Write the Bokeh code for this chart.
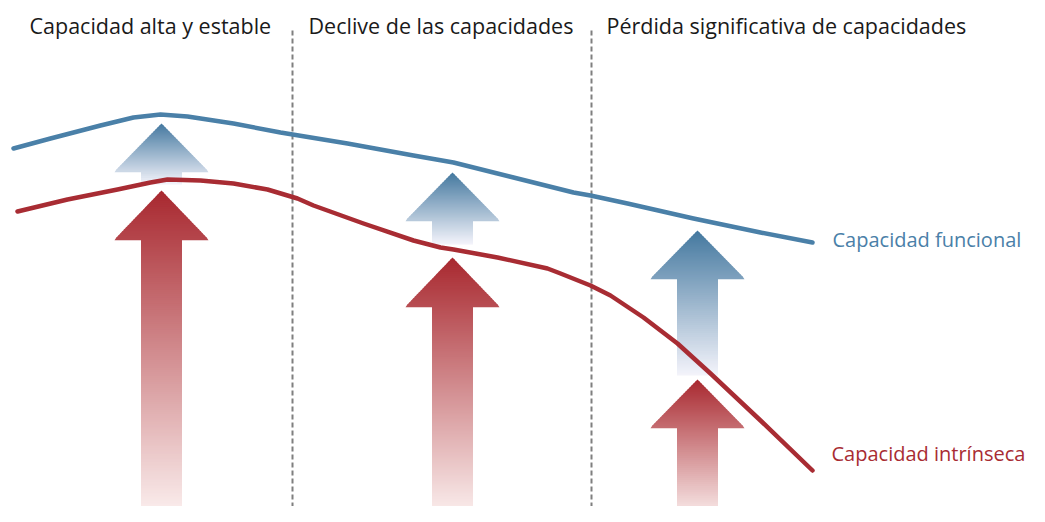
import numpy as np
from bokeh.plotting import figure
from bokeh.models import Range1d, ColumnDataSource
from bokeh.embed import file_html
from bokeh.resources import INLINE
from bokeh.core.properties import value

# ---------------- data (abstract units: x = life course, y = capacity level) ----------------
func_x = [13, 50, 100, 133, 160, 187, 233, 280, 347, 413, 453, 513, 573, 590, 627, 693, 760, 812]
func_y = [374, 384, 397, 405, 408, 406, 399, 390, 379, 367, 360, 345, 330, 327, 319, 304, 290, 280]

intr_x = [17, 67, 117, 150, 167, 200, 233, 267, 297, 313, 363, 413, 440, 453, 497, 547, 560,
          590, 610, 643, 677, 710, 760, 812]
intr_y = [311, 323, 333, 340, 343, 342, 339, 333, 324, 317, 299, 282, 275, 273, 265, 254, 249,
          237, 227, 205, 179, 149, 102, 52]

phase_bounds = [292, 591]
phase_labels = ["Capacidad alta y estable", "Declive de las capacidades",
                "Pérdida significativa de capacidades"]
phase_label_x = [29, 308, 606]

series_labels = ["Capacidad funcional", "Capacidad intrínseca"]
series_label_x = [832, 831]
series_label_y = [283, 69]

arrow_x = [161, 452, 697]
blue_tip = [399, 350, 292]
blue_head_base = [351, 302, 244]
blue_tail = [338, 278, 147]
red_tip = [332, 265, 143]
red_head_base = [283, 216, 95]
red_tail = [0, 0, 0]

BLUE = "#4a80a8"
RED = "#a82c33"
BLUE_TOP, BLUE_BOT = "#44789f", "#f4f4fb"
RED_TOP, RED_BOT = "#a8282f", "#fdf4f3"
HEAD_HW = 47
SHAFT_HW = 20.5

p = figure(width=1029, height=506, x_range=Range1d(0, 1029), y_range=Range1d(16, 522),
           output_backend="svg", toolbar_location=None, min_border=0,
           x_axis_location=None, y_axis_location=None)
p.grid.visible = False
p.outline_line_color = None
p.background_fill_color = "white"


def hex2rgb(h):
    h = h.lstrip("#")
    return np.array([int(h[i:i + 2], 16) for i in (0, 2, 4)], dtype=float)


def mix(c0, c1, t):
    a, b = hex2rgb(c0), hex2rgb(c1)
    c = a + (b - a) * t
    return "#%02x%02x%02x" % tuple(int(round(v)) for v in c)


def arrow_patches(xc, tip, base, tail, ctop, cbot):
    xs, ys, cs = [], [], []
    total = tip - tail
    n_head = max(8, int((tip - base) / 2))
    n_shaft = max(4, int((base - tail) / 2))
    head_edges = np.linspace(tip, base, n_head + 1)
    shaft_edges = np.linspace(base, tail, n_shaft + 1)
    for edges, is_head in ((head_edges, True), (shaft_edges, False)):
        for i in range(len(edges) - 1):
            y0 = edges[i]
            y1 = edges[i + 1]
            last = (not is_head) and i == len(edges) - 2
            y1e = y1 if last else y1 - 0.8
            if is_head:
                w0 = HEAD_HW * (tip - y0) / (tip - base)
                w1 = HEAD_HW * (tip - max(y1e, base)) / (tip - base)
            else:
                w0 = w1 = SHAFT_HW
            xs.append([xc - w0, xc + w0, xc + w1, xc - w1])
            ys.append([y0, y0, y1e, y1e])
            t = (tip - (y0 + y1) / 2) / total
            cs.append(mix(ctop, cbot, t))
    return xs, ys, cs


AX, AY, AC = [], [], []
for i in range(len(arrow_x)):
    for tip, base, tail, c0, c1 in (
            (red_tip[i], red_head_base[i], red_tail[i], RED_TOP, RED_BOT),
            (blue_tip[i], blue_head_base[i], blue_tail[i], BLUE_TOP, BLUE_BOT)):
        xs, ys, cs = arrow_patches(arrow_x[i], tip, base, tail, c0, c1)
        AX += xs
        AY += ys
        AC += cs

# dashed phase separators
p.segment(x0=phase_bounds, x1=phase_bounds, y0=[492] * len(phase_bounds),
          y1=[0] * len(phase_bounds), line_color="#7f7f7f", line_width=2, line_dash="5 3")

p.patches(xs=AX, ys=AY, fill_color=AC, line_color=None)

p.line(func_x, func_y, line_color=BLUE, line_width=4.5, line_cap="round", line_join="round")
p.line(intr_x, intr_y, line_color=RED, line_width=4.5, line_cap="round", line_join="round")

hdr = ColumnDataSource(dict(x=phase_label_x, y=[497] * 3, t=phase_labels))
p.text(x="x", y="y", text="t", source=hdr, text_font=value("Open Sans"),
       text_font_size="21.5px", text_color="#1a1a1a", text_baseline="middle", text_align="left")

lab = ColumnDataSource(dict(x=series_label_x, y=series_label_y, t=series_labels,
                            c=[BLUE, RED]))
p.text(x="x", y="y", text="t", source=lab, text_font=value("Open Sans"),
       text_font_size="20px", text_color="c", text_baseline="middle", text_align="left")

open("out.html", "w").write(file_html(p, INLINE))
